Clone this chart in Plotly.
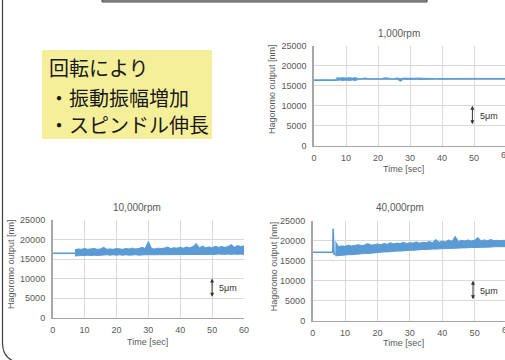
import plotly.graph_objects as go

W, H = 505, 360

# ---------------- data ----------------
# time of each envelope sample (s)
t_band = [7 + i for i in range(54)]  # 7 ... 60 s

# 1,000 rpm
t_flat_1 = [0, 6.8, 7]
v_flat_1 = [16400, 16400, 16650]
low_1 = [16300, 16400, 16300, 16400, 16300, 16400, 16300, 16600, 16620, 16620,
         16620, 16620, 16620, 16620, 16620, 16620, 16620, 16620, 16620, 16600,
         16100, 16600, 16550, 16600, 16550, 16600, 16550, 16600, 16600, 16600,
         16600, 16620, 16600, 16620, 16600, 16620, 16600, 16620, 16600, 16620,
         16620, 16620, 16620, 16620, 16620, 16620, 16620, 16620, 16620, 16620,
         16620, 16620, 16620, 16620]
high_1 = [17000, 16900, 17000, 16900, 17000, 16900, 17000, 16750, 16750, 16950,
          16750, 16750, 16750, 16750, 16750, 16950, 16950, 16750, 16750, 16950,
          16750, 16900, 16850, 16950, 16850, 16900, 16850, 16850, 16850, 16800,
          16800, 16800, 16820, 16800, 16820, 16800, 16820, 16800, 16820, 16820,
          16820, 16820, 16820, 16820, 16820, 16820, 16820, 16820, 16820, 16820,
          16820, 16820, 16820, 16820]

# 10,000 rpm
t_flat_2 = [0, 6.5, 7]
v_flat_2 = [16500, 16500, 16500]
low_2 = [15800, 15900, 15900, 15900, 16000, 15900, 16000, 15900, 16000, 16000,
         16100, 16000, 16100, 16000, 16100, 16000, 16100, 16000, 16100, 16100,
         16000, 16100, 16100, 16100, 16100, 16100, 16200, 16100, 16200, 16100,
         16200, 16100, 16200, 16100, 16200, 16200, 16100, 16200, 16200, 16200,
         16100, 16200, 16200, 16200, 16200, 16300, 16200, 16200, 16300, 16200,
         16300, 16200, 16300, 16200]
high_2 = [17400, 17600, 17500, 17700, 17500, 17600, 17700, 17500, 17600, 18000,
          17500, 17600, 17500, 17700, 17600, 17500, 17700, 17600, 17800, 17600,
          17700, 18000, 17700, 19500, 17700, 17600, 17800, 17700, 17800, 18100,
          17700, 17900, 17800, 18000, 17800, 18100, 17900, 18200, 19000, 17900,
          18300, 17900, 18100, 17900, 18300, 18000, 18200, 18000, 18200, 18700,
          18000, 18500, 18200, 18400]

# 40,000 rpm
t_flat_3 = [0, 6.2, 6.3, 6.6, 7]
v_flat_3 = [17100, 17100, 23000, 16500, 17000]
low_3 = [16200, 16300, 16400, 16400, 16500, 16500, 16600, 16600, 16700, 16800,
         16800, 16900, 17000, 17000, 17100, 17200, 17200, 17300, 17300, 17400,
         17400, 17500, 17500, 17600, 17600, 17700, 17700, 17800, 17800, 17900,
         17900, 17900, 18000, 18000, 18000, 18100, 18100, 18100, 18200, 18200,
         18200, 18300, 18300, 18300, 18300, 18400, 18400, 18400, 18400, 18500,
         18500, 18500, 18500, 18500]
high_3 = [19800, 18500, 18700, 18600, 18900, 18700, 18800, 19000, 18800, 18900,
          19300, 18900, 19000, 19200, 19000, 19300, 19100, 19500, 19200, 19400,
          19300, 19600, 19300, 19500, 19400, 19700, 19400, 19600, 19500, 19800,
          19500, 20300, 19600, 19900, 19700, 20200, 19800, 21100, 19800, 20100,
          19900, 20200, 19900, 20100, 20800, 20000, 20200, 20000, 20300, 20000,
          20100, 20000, 20100, 20000]

titles = ["1,000rpm", "10,000rpm", "40,000rpm"]
x_ticks = [0, 10, 20, 30, 40, 50, 60]
y_ticks = [0, 5000, 10000, 15000, 20000, 25000]
arrow_x = [49.5, 50, 49.5]
arrow_lo, arrow_hi = 5000, 10000
arrow_label = "5μm"
x_title = "Time [sec]"
y_title = "Hagoromo output [nm]"
note_lines = ["回転により", "・振動振幅増加", "・スピンドル伸長"]

BLUE = "#5B9BD5"
GRID = "#D9D9D9"
TICK = "#595959"
FONT = "Liberation Sans, Arial, sans-serif"
JP = "Noto Sans CJK JP, sans-serif"

# pixel layout of the three charts
boxes = [(314, 506, 45.7, 145.7), (52.7, 244, 220, 317.7), (312.7, 507, 220.7, 320.7)]
title_pos = [(399, 33.5), (137, 208), (400, 207.5)]
xtitle_pos = [(403, 169), (147, 342), (403, 343)]
ytitle_pos = [(272, 89), (11, 264), (273.5, 266.7)]
data = [(t_flat_1, v_flat_1, low_1, high_1),
        (t_flat_2, v_flat_2, low_2, high_2),
        (t_flat_3, v_flat_3, low_3, high_3)]

fig = go.Figure()
annotations = []
shapes = []


def pap(px, py):
    return px / W, 1 - py / H


for k, (box, d) in enumerate(zip(boxes, data)):
    n = "" if k == 0 else str(k + 1)
    xa, ya = "x" + n, "y" + n
    tf, vf, lo, hi = d
    fig.add_trace(go.Scatter(x=tf, y=vf, mode="lines", xaxis=xa, yaxis=ya,
                             line=dict(color=BLUE, width=1.6), hoverinfo="skip"))
    fig.add_trace(go.Scatter(x=t_band, y=lo, mode="lines", xaxis=xa, yaxis=ya,
                             line=dict(color=BLUE, width=1), hoverinfo="skip"))
    fig.add_trace(go.Scatter(x=t_band, y=hi, mode="lines", xaxis=xa, yaxis=ya,
                             line=dict(color=BLUE, width=1), fill="tonexty",
                             fillcolor=BLUE, hoverinfo="skip"))
    xl, xr, yt, yb = box
    # plot areas that run past the right page edge: shorten the visible range
    x_end = 60 * min(1.0, (W - xl) / (xr - xl))
    fig.layout["xaxis" + n] = dict(
        domain=[xl / W, min(xr, W) / W], range=[0, x_end], tickvals=x_ticks, anchor=ya,
        showgrid=True, gridcolor=GRID, gridwidth=1, zeroline=False, automargin=False,
        showline=True, linecolor="#A6A6A6", linewidth=1,
        ticks="outside", ticklen=3, tickcolor="rgba(0,0,0,0)",
        tickfont=dict(family=FONT, size=9, color=TICK), fixedrange=True)
    fig.layout["yaxis" + n] = dict(
        domain=[1 - yb / H, 1 - yt / H], range=[0, 25000], tickvals=y_ticks,
        tickformat="d", anchor=xa, automargin=False,
        showgrid=True, gridcolor=GRID, gridwidth=1, zeroline=False,
        showline=True, linecolor="#A6A6A6", linewidth=1.5,
        ticks="outside", ticklen=4, tickcolor="rgba(0,0,0,0)",
        tickfont=dict(family=FONT, size=9, color=TICK), fixedrange=True)
    # "60" label cut by the page edge on the right-hand charts
    if xr > W:
        annotations.append(dict(text="60", x=xr / W, y=1 - (yb + 9.5) / H, xref="paper",
                                yref="paper", xanchor="center", yanchor="middle",
                                showarrow=False, font=dict(family=FONT, size=9, color=TICK)))
    # double arrow
    annotations.append(dict(x=arrow_x[k], y=arrow_hi, ax=arrow_x[k], ay=arrow_lo,
                            xref=xa, yref=ya, axref=xa, ayref=ya, text="",
                            showarrow=True, arrowhead=2, startarrowhead=2, arrowside="end+start",
                            arrowsize=0.8, startarrowsize=0.8, arrowwidth=1, arrowcolor="#333333"))
    annotations.append(dict(x=arrow_x[k] + 1.6, y=(arrow_lo + arrow_hi) / 2, xref=xa, yref=ya,
                            text=arrow_label, showarrow=False, xanchor="left", yanchor="middle",
                            font=dict(family=FONT, size=9, color="#333333")))
    # chart title and axis titles
    for txt, pos, ang, size in [(titles[k], title_pos[k], 0, 10),
                                (x_title, xtitle_pos[k], 0, 9),
                                (y_title, ytitle_pos[k], -90, 9)]:
        x, y = pap(*pos)
        annotations.append(dict(text=txt, x=x, y=y, xref="paper", yref="paper",
                                xanchor="center", yanchor="middle", textangle=ang,
                                showarrow=False, font=dict(family=FONT, size=size, color=TICK)))

# yellow note box
x0, y1 = pap(42, 50)
x1, y0 = pap(212, 139)
shapes.append(dict(type="rect", xref="paper", yref="paper", x0=x0, x1=x1, y0=y0, y1=y1,
                   fillcolor="#F6EF9A", line=dict(width=0), layer="below"))
for line, py in zip(note_lines, [67, 97.5, 124.5]):
    x, y = pap(47, py)
    annotations.append(dict(text=line, x=x, y=y, xref="paper", yref="paper",
                            xanchor="left", yanchor="middle", showarrow=False,
                            font=dict(family=JP, size=20, color="#1a1a1a")))

# top title box remnant
shapes.append(dict(type="rect", xref="paper", yref="paper", x0=102 / W, x1=427 / W,
                   y0=1 - 2 / H, y1=1, fillcolor="#B8B8B8", line=dict(color="#404040", width=1)))


def P(x, y):
    return f"{x / W:.5f},{1 - y / H:.5f}"


# slide frame (left edge with rounded bottom corner)
shapes.append(dict(type="path", xref="paper", yref="paper",
                   path=f"M {P(2.5, -2)} L {P(2.5, 343)} Q {P(2.5, 358)} {P(16, 362)}",
                   line=dict(color="#404040", width=1.2)))

fig.update_layout(width=W, height=H, margin=dict(l=0, r=0, t=0, b=0, autoexpand=False),
                  paper_bgcolor="white", plot_bgcolor="white",
                  annotations=annotations, shapes=shapes, showlegend=False)

post = ("document.body.style.margin='0';document.body.style.overflow='hidden';"
        "var d=document.getElementById('{plot_id}');"
        "d.style.position='fixed';d.style.top='0px';d.style.left='0px';")
fig.write_html("out.html", config={"displayModeBar": False}, post_script=post)
